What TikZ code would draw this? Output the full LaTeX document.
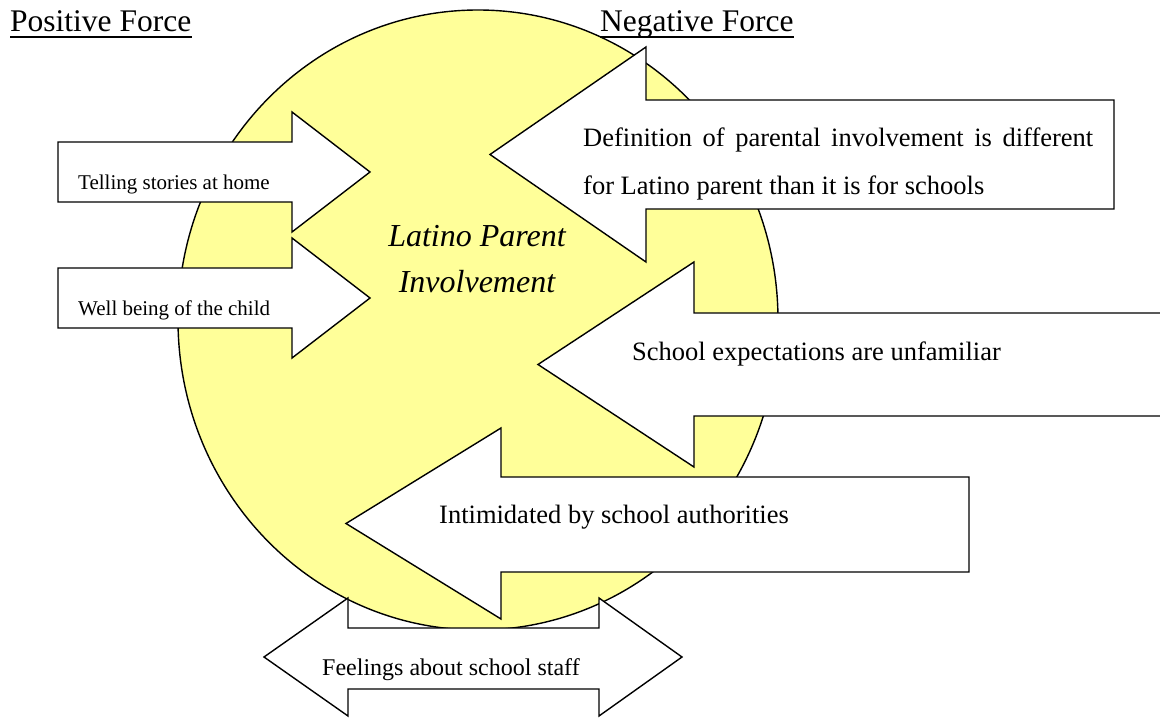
\documentclass[tikz,border=0pt]{standalone}
\usepackage{fontspec}
\setmainfont{Liberation Serif}
\definecolor{lpyellow}{HTML}{FFFF99}
\begin{document}
\begin{tikzpicture}[x=1pt,y=-1pt,
  shapeline/.style={draw=black,line width=1.4pt,line join=miter},
  arrowbody/.style={shapeline,fill=white},
  lbl/.style={inner sep=0pt,anchor=base west},
  headtxt/.style={lbl,font=\fontsize{31.5}{36}\selectfont},
  bigtxt/.style={lbl,font=\fontsize{26.5}{30}\selectfont},
  smalltxt/.style={lbl,font=\fontsize{21}{24}\selectfont},
  centertxt/.style={inner sep=0pt,anchor=base,font=\fontsize{32}{36}\selectfont\itshape}]
\useasboundingbox (0,0) rectangle (1160,719);
\clip (0,0) rectangle (1160,719);
\fill[white] (0,0) rectangle (1160,719);

% central circle
\draw[shapeline,fill=lpyellow] (478,320) ellipse [x radius=300, y radius=310];

% positive forces
\draw[arrowbody] (58,142) -- (292,142) -- (292,112) -- (370,172) -- (292,232) -- (292,202) -- (58,202) -- cycle;
\draw[arrowbody] (58,268) -- (292,268) -- (292,238) -- (370,298) -- (292,358) -- (292,328) -- (58,328) -- cycle;

% negative forces
\draw[arrowbody] (1114,100) -- (646,100) -- (646,47) -- (490,154.5) -- (646,262) -- (646,209) -- (1114,209) -- cycle;
\draw[arrowbody] (1175,313) -- (694,313) -- (694,262) -- (538,364.5) -- (694,467) -- (694,416) -- (1175,416);
\draw[arrowbody] (969,477) -- (501,477) -- (501,428) -- (346,523.5) -- (501,619) -- (501,572) -- (969,572) -- cycle;

% double arrow
\draw[arrowbody] (264,657) -- (348,598) -- (348,628) -- (599,628) -- (599,598) -- (682,657) -- (599,716) -- (599,689) -- (348,689) -- (348,716) -- cycle;

% headings
\node[headtxt] (pos) at (10,32) {Positive Force};
\node[headtxt] (neg) at (600,32) {Negative Force};
\draw[line width=1.4pt] ([yshift=-5pt]pos.base west) -- ([yshift=-5pt]pos.base east);
\draw[line width=1.4pt] ([yshift=-5pt]neg.base west) -- ([yshift=-5pt]neg.base east);

% centre text
\node[centertxt] (lp1) at (477,247) {Latino Parent};
\node[centertxt] (lp2) at (477,293) {Involvement};

% labels
\node[smalltxt] (tell) at (78,190) {Telling stories at home};
\node[smalltxt] (well) at (78,316) {Well being of the child};
\node[bigtxt] (def1) at (583,147) {\makebox[510pt][s]{Definition of parental involvement is different}};
\node[bigtxt] (def2) at (583,195) {for Latino parent than it is for schools};
\node[bigtxt] (exp) at (632,361) {School expectations are unfamiliar};
\node[bigtxt] (intim) at (439,523) {Intimidated by school authorities};
\node[lbl,font=\fontsize{24}{28}\selectfont] (feel) at (322,675) {Feelings about school staff};
\end{tikzpicture}
\end{document}
